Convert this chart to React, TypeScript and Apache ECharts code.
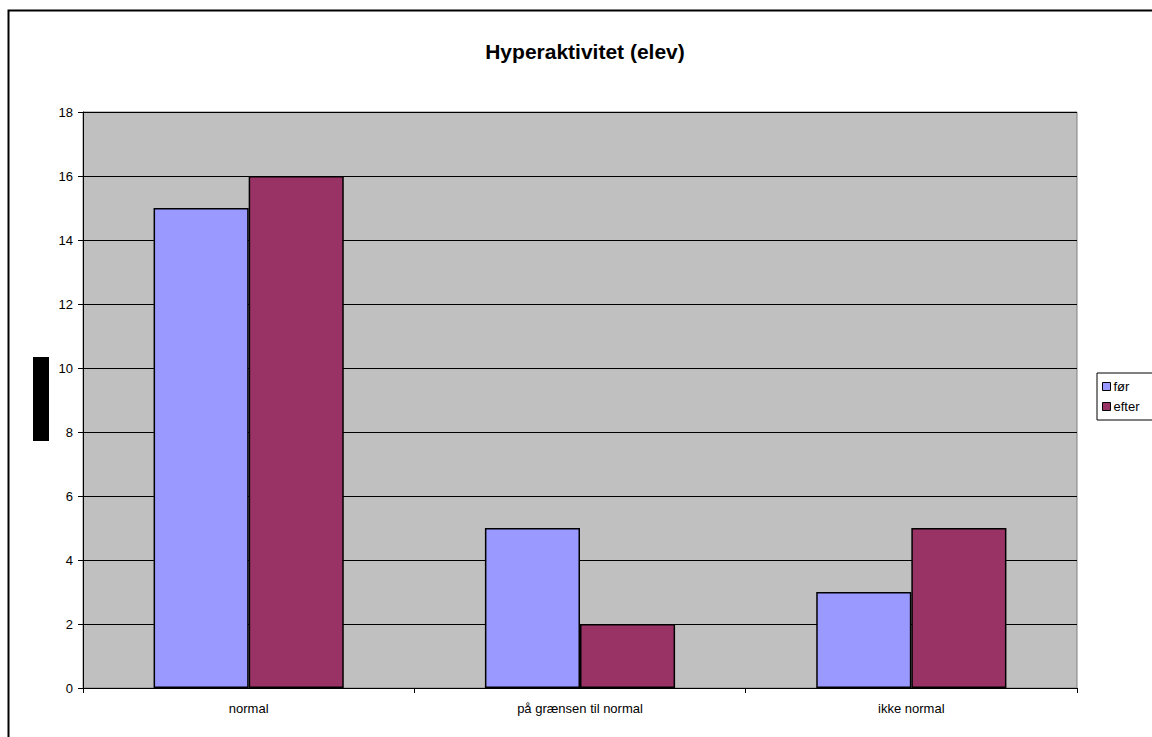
import React, { useEffect, useRef } from "react";
import * as echarts from "echarts";

const categories = ["normal", "på grænsen til normal", "ikke normal"];
const seriesNames = ["før", "efter"];
const forValues = [15, 5, 3];
const efterValues = [16, 2, 5];
const titleText = "Hyperaktivitet (elev)";

export default function App() {
  const ref = useRef<HTMLDivElement>(null);
  useEffect(() => {
    if (!ref.current) return;
    const chart = echarts.init(ref.current, null, { renderer: "svg" });
    const font = "Arial, 'Liberation Sans', sans-serif";
    chart.setOption({
      animation: false,
      backgroundColor: "#ffffff",
      title: {
        text: titleText,
        left: 580,
        textAlign: "center",
        top: 36,
        textStyle: { fontFamily: font, fontSize: 21, fontWeight: "bold", color: "#000" },
      },
      legend: {
        orient: "vertical",
        left: 1097,
        top: 373,
        itemWidth: 8,
        itemHeight: 8,
        itemGap: 7,
        padding: [7, 20, 7, 5],
        borderColor: "#000",
        borderWidth: 1,
        icon: "rect",
        data: seriesNames,
        itemStyle: { borderColor: "#000", borderWidth: 1 },
        textStyle: { fontFamily: font, fontSize: 13, color: "#000", padding: [0, 0, 0, -2] },
      },
      grid: { left: 83, right: 75, top: 112, bottom: 49, show: true, backgroundColor: "#C0C0C0", borderColor: "#808080", borderWidth: 1 },
      xAxis: {
        type: "category",
        data: categories,
        axisLine: { lineStyle: { color: "#000", width: 1 } },
        axisTick: { show: true, length: 5, lineStyle: { color: "#000" } },
        axisLabel: { fontFamily: font, fontSize: 13, color: "#000", margin: 14 },
        splitLine: { show: false },
      },
      yAxis: {
        type: "value",
        min: 0,
        max: 18,
        interval: 2,
        axisLine: { show: true, lineStyle: { color: "#000", width: 1 } },
        axisTick: { show: true, length: 5, lineStyle: { color: "#000" } },
        axisLabel: { fontFamily: font, fontSize: 13, color: "#000", margin: 10 },
        splitLine: { show: true, lineStyle: { color: "#000", width: 1 } },
      },
      series: [
        {
          name: seriesNames[0],
          type: "bar",
          data: forValues,
          barGap: "0%",
          barCategoryGap: "42.6%",
          itemStyle: { color: "#9999FF", borderColor: "#000", borderWidth: 1.5 },
        },
        {
          name: seriesNames[1],
          type: "bar",
          data: efterValues,
          barGap: "0%",
          barCategoryGap: "42.6%",
          itemStyle: { color: "#993366", borderColor: "#000", borderWidth: 1.5 },
        },
      ],
      graphic: [
        {
          type: "rect",
          shape: { x: 8.5, y: 10.5, width: 1160, height: 740 },
          style: { fill: "none", stroke: "#000", lineWidth: 2 },
          silent: true,
        },
        {
          type: "rect",
          shape: { x: 33, y: 357, width: 16, height: 84 },
          style: { fill: "#000" },
          silent: true,
        },
      ],
    });
    return () => chart.dispose();
  }, []);
  return (
    <div
      ref={ref}
      style={{ position: "fixed", left: 0, top: 0, width: 1152, height: 737 }}
    />
  );
}
